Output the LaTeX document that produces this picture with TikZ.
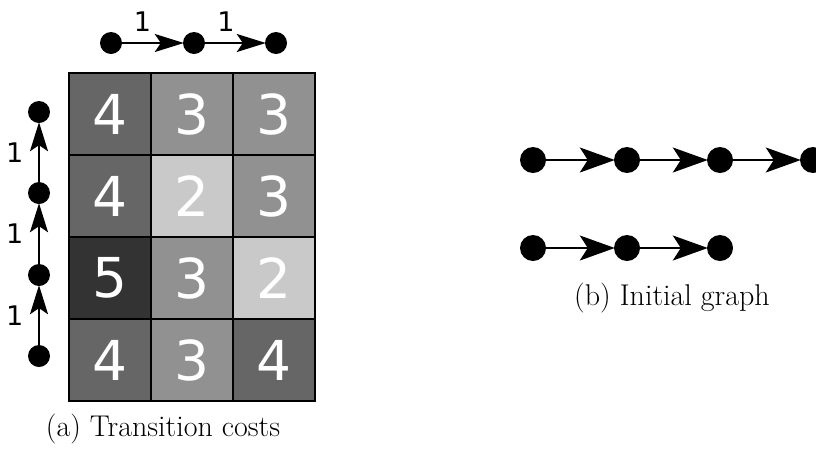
\documentclass[tikz,border=0pt]{standalone}
\usepackage{fontspec}
\newfontfamily\dejavu{DejaVu Sans}
\usetikzlibrary{arrows.meta}
\definecolor{cfive}{gray}{0.20}
\definecolor{cfour}{gray}{0.40}
\definecolor{cthree}{gray}{0.57}
\definecolor{ctwo}{gray}{0.79}
\begin{document}
\begin{tikzpicture}[x=1pt,y=-1pt,
 dot/.style={circle,fill=black,inner sep=0pt,minimum size=22pt},
 bigdot/.style={circle,fill=black,inner sep=0pt,minimum size=26pt},
 edge/.style={-{Stealth[length=29pt,width=18pt,inset=6pt]},line width=1.6pt,shorten >=-1pt},
 bigedge/.style={-{Stealth[length=35pt,width=25pt,inset=8pt]},line width=1.8pt,shorten >=-1pt},
 cell/.style={draw=black,line width=2.5pt,minimum width=82pt,minimum height=82pt,inner sep=0pt,text=white,font=\dejavu\fontsize{55}{55}\selectfont},
 lab/.style={font=\dejavu\fontsize{27}{27}\selectfont,inner sep=0pt},
 captext/.style={font=\fontsize{30}{34}\selectfont}]
\path[use as bounding box] (0,0) rectangle (816,448);
% grid
\node[cell,fill=cfour]  (c11) at (110,114) {4};
\node[cell,fill=cthree] (c12) at (192,114) {3};
\node[cell,fill=cthree] (c13) at (274,114) {3};
\node[cell,fill=cfour]  (c21) at (110,196) {4};
\node[cell,fill=ctwo]   (c22) at (192,196) {2};
\node[cell,fill=cthree] (c23) at (274,196) {3};
\node[cell,fill=cfive]  (c31) at (110,278) {5};
\node[cell,fill=cthree] (c32) at (192,278) {3};
\node[cell,fill=ctwo]   (c33) at (274,278) {2};
\node[cell,fill=cfour]  (c41) at (110,360) {4};
\node[cell,fill=cthree] (c42) at (192,360) {3};
\node[cell,fill=cfour]  (c43) at (274,360) {4};
% top chain
\node[dot] (t1) at (111,43) {};
\node[dot] (t2) at (194,43) {};
\node[dot] (t3) at (276,43) {};
\draw[edge] (t1) -- node[lab,above=11pt,xshift=-10pt] {1} (t2);
\draw[edge] (t2) -- node[lab,above=11pt,xshift=-9pt] {1} (t3);
% left chain
\node[dot] (l1) at (39,356) {};
\node[dot] (l2) at (39,275) {};
\node[dot] (l3) at (39,193) {};
\node[dot] (l4) at (39,112) {};
\draw[edge] (l1) -- node[lab,left=15pt,pos=0.5] {1} (l2);
\draw[edge] (l2) -- node[lab,left=15pt,pos=0.5] {1} (l3);
\draw[edge] (l3) -- node[lab,left=15pt,pos=0.5] {1} (l4);
\node[captext] (capa) at (163,429) {(a) Transition costs};
% initial graph
\node[bigdot] (a1) at (533,160) {};
\node[bigdot] (a2) at (627,160) {};
\node[bigdot] (a3) at (720,160) {};
\node[bigdot] (a4) at (813,160) {};
\draw[bigedge] (a1) -- (a2);
\draw[bigedge] (a2) -- (a3);
\draw[bigedge] (a3) -- (a4);
\node[bigdot] (b1) at (533,248) {};
\node[bigdot] (b2) at (627,248) {};
\node[bigdot] (b3) at (720,248) {};
\draw[bigedge] (b1) -- (b2);
\draw[bigedge] (b2) -- (b3);
\node[captext] (capb) at (672,298) {(b) Initial graph};
\end{tikzpicture}
\end{document}
